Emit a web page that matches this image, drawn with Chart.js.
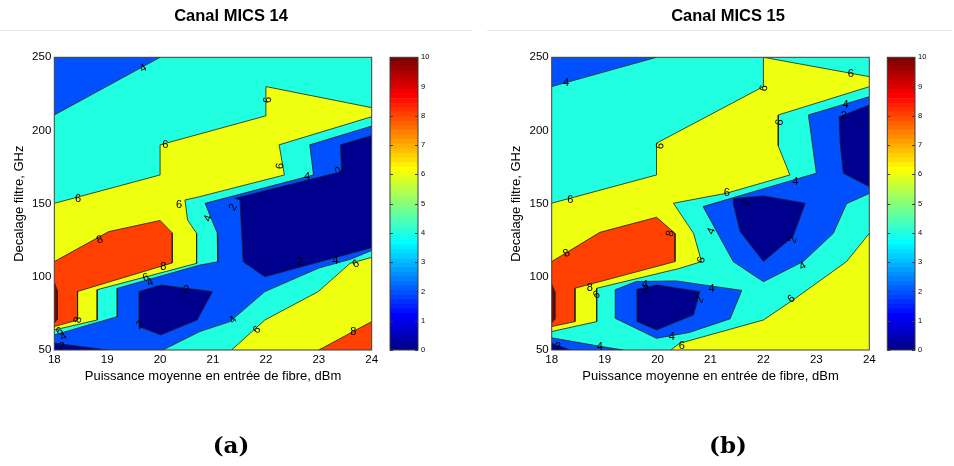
<!DOCTYPE html>
<html>
<head>
<meta charset="utf-8">
<script src="https://cdn.jsdelivr.net/npm/chart.js@4.4.0/dist/chart.umd.min.js"></script>
<style>
  body { margin: 0; background: #fff; width: 954px; height: 466px; overflow: hidden; position: relative; }
  canvas { position: absolute; top: 0; }
  .rule { position: absolute; top: 30px; height: 1px; background: #e9e9e9; }
</style>
</head>
<body>
<div class="rule" style="left:0;width:472px"></div>
<div class="rule" style="left:487px;width:465px"></div>
<canvas id="plotA" width="462" height="466" style="left:0"></canvas>
<canvas id="barA" width="60" height="466" style="left:380px"></canvas>
<canvas id="plotB" width="462" height="466" style="left:497px"></canvas>
<canvas id="barB" width="60" height="466" style="left:877px"></canvas>
<script>
// axes ranges and ticks
const xRange = [18, 24];
const yRange = [50, 250];
const xStep = 1;
const yStep = 50;
const cbRange = [0, 10];

// contour regions (x = dBm, y = GHz)
// number after each region = lower bound of its band
const frameRect = [[18, 50], [24, 50], [24, 250], [18, 250]];

// ---- Canal MICS 14
const a_blueTop = [[18, 250], [20, 250], [18, 210.6]];
const a_yellow = [[18, 150.2], [20, 169.6], [20, 190.2], [22, 210], [22, 230], [24, 215.6], [24, 209.4],
  [22.25, 190.2], [22.35, 169.6], [20.75, 154.8], [20.47, 152.5], [20.52, 138.8], [20.69, 129.7],
  [20.69, 109.2], [18.81, 91.2], [18.81, 70.5], [18, 63.7]];
const a_yellow2 = [[21.35, 50], [21.98, 70.5], [22.99, 89.9], [23.59, 109.2], [24, 113.3], [24, 50]];
const a_red = [[18, 110.4], [19.03, 130.9], [20, 138.5], [20.23, 130], [20.23, 109.5], [18.44, 90], [18.44, 70.5], [18, 66]];
const a_red2 = [[23, 50], [24, 50], [24, 69.4]];
const a_darkRed = [[18, 96], [18.06, 90.5], [18.06, 71], [18, 68.5]];
const a_blue = [[24, 203], [22.83, 190.2], [22.9, 169.6], [20.85, 150.2], [21.08, 130], [21.09, 110.3],
  [20.75, 108], [19.19, 92.1], [19.19, 72.8], [18, 60.3], [18, 50], [20.05, 50], [20.75, 62.6],
  [21.32, 69.4], [21.98, 89.9], [23, 106], [23.6, 112], [24, 118]];
const a_navy = [[24, 196.5], [23.41, 190.2], [23.43, 171.9], [21.42, 153.7], [21.51, 152.5], [21.57, 110.3], [21.98, 100], [24, 119.9]];
const a_navy2 = [[19.6, 89.9], [20.01, 94.4], [20.99, 89.9], [20.7, 70.5], [20.01, 60.3], [19.6, 66]];
const a_navy3 = [[18, 50], [18, 54.7], [19, 50]];

const a_labels = [
  ['4', 19.68, 242.5, -28], ['6', 20.1, 190, 0], ['6', 18.45, 153, 0], ['6', 20.36, 149, 0],
  ['4', 20.91, 140, -70], ['6', 22.04, 220.9, -90], ['6', 22.27, 175.8, -85], ['4', 22.78, 168.5, 0],
  ['2', 23.39, 173, -70], ['2', 21.38, 147.5, -60], ['8', 18.86, 125.2, -20], ['8', 20.06, 107, 0],
  ['6', 19.73, 99.5, -20], ['4', 19.81, 96, -20], ['2', 20.49, 91, 0], ['8', 18.45, 70.5, -80],
  ['6', 18.1, 62.6, -30], ['4', 18.17, 59.2, -30], ['2', 18.14, 52.3, 0], ['2', 19.62, 67.1, -30],
  ['2', 22.64, 109.9, 0], ['4', 23.31, 111, 0], ['6', 23.7, 108.7, -30], ['4', 21.38, 70.6, -45],
  ['6', 21.83, 63.7, -45], ['8', 23.65, 62.6, 0]
];

// ---- Canal MICS 15
const b_blueTop = [[18, 250], [19.98, 250], [18, 230]];
const b_yellow = [[18, 150.3], [19.98, 169.6], [19.98, 191.3], [22, 230], [22, 250], [24, 236.8], [24, 229.9],
  [22.28, 210.6], [22.28, 189.4], [22.5, 169.6], [21.3, 157.1], [20.3, 150.3], [20.68, 129.7],
  [20.83, 110.4], [20.42, 105.8], [18.85, 92.2], [18.85, 69.4], [18, 62.6]];
const b_yellow2 = [[20.25, 50], [20.42, 54.6], [22, 70.5], [22.56, 84.2], [23.57, 110.4], [24, 129.7], [24, 50]];
const b_red = [[18, 110.4], [18.91, 130.4], [19.98, 140.7], [20.33, 129.7], [20.33, 110.4], [18.44, 92.2], [18.44, 69.4], [18, 66]];
const b_darkRed = [[18, 95], [18.06, 90], [18.06, 71], [18, 68.5]];
const b_blue = [[22.85, 210.6], [24, 223.1], [24, 157], [23.57, 150], [23.32, 129.7], [22.75, 110.4],
  [22, 96.7], [21.43, 110.4], [20.86, 148], [23, 170.8]];
const b_blue2 = [[19.2, 91.2], [19.6, 96.8], [20.35, 97.2], [21.59, 90.7], [21.37, 71.3], [20.6, 62], [19.98, 58], [19.2, 71.7]];
const b_blue3 = [[18, 50], [18, 58.3], [18.9, 52.6], [19.35, 50]];
const b_navy = [[23.43, 209.4], [24, 217.4], [24, 161.6], [23.51, 170.8], [23.45, 191.3]];
const b_navy2 = [[21.43, 153.5], [22, 155.3], [22.79, 150.3], [22.56, 127.5], [22, 110.4], [21.56, 130.9], [21.43, 150]];
const b_navy3 = [[19.61, 91.5], [19.98, 94.4], [20.8, 89.9], [20.68, 74], [19.98, 63.7], [19.61, 69.4]];
const b_navy4 = [[18, 50], [18, 54.6], [18.35, 50]];

const b_labels = [
  ['4', 18.27, 232.2, 0], ['6', 20.05, 189.4, -80], ['6', 18.35, 152.5, 0], ['6', 22.01, 228.8, -80],
  ['6', 23.65, 238.4, 0], ['6', 22.31, 205.4, -80], ['4', 23.55, 217.4, 0], ['2', 23.52, 209.9, 0],
  ['4', 22.6, 165, 0], ['6', 21.31, 157.6, 0], ['2', 21.68, 150.5, -70], ['8', 18.28, 116, -30],
  ['8', 20.24, 129.7, -80], ['8', 18.72, 92.2, 0], ['6', 18.85, 87.6, -30], ['4', 19.76, 94.4, 0],
  ['2', 19.78, 91, 0], ['4', 20.27, 59.2, 0], ['6', 20.46, 53, 0], ['2', 18.12, 52.3, 0],
  ['4', 18.91, 52.3, 0], ['4', 21.02, 131.3, -70], ['6', 20.83, 111.5, -70], ['2', 22.56, 125.2, -70],
  ['4', 22.74, 107.4, -30], ['4', 21.02, 91.5, 0], ['2', 20.8, 84.5, -70], ['6', 22.53, 84.9, -40]
];

const layersA = [
  [frameRect, 4], [a_yellow, 6], [a_yellow2, 6], [a_red, 8], [a_red2, 8], [a_darkRed, 10],
  [a_blueTop, 2], [a_blue, 2], [a_navy, 0], [a_navy2, 0], [a_navy3, 0]
];
const layersB = [
  [frameRect, 4], [b_yellow, 6], [b_yellow2, 6], [b_red, 8], [b_darkRed, 10],
  [b_blueTop, 2], [b_blue, 2], [b_blue2, 2], [b_blue3, 2], [b_navy, 0], [b_navy2, 0], [b_navy3, 0], [b_navy4, 0]
];

Chart.defaults.font.family = '"Liberation Sans", Arial, Helvetica, sans-serif';
Chart.defaults.color = '#000';

const LINE = '#1e1e1e';
const drawOrder = {4: 100, 6: 90, 8: 80, 10: 70, 2: 60, 0: 50};

// MATLAB jet(64), k = 1..64
function jet(k) {
  const r = k <= 24 ? 0 : k <= 40 ? (k - 24) / 16 : k <= 56 ? 1 : 1 - (k - 56) / 16;
  const g = k <= 8 ? 0 : k <= 24 ? (k - 8) / 16 : k <= 40 ? 1 : k <= 56 ? 1 - (k - 40) / 16 : 0;
  const b = k <= 8 ? (k + 8) / 16 : k <= 24 ? 1 : k <= 40 ? 1 - (k - 24) / 16 : 0;
  return 'rgb(' + Math.round(r * 255) + ',' + Math.round(g * 255) + ',' + Math.round(b * 255) + ')';
}
function bandColor(level) {
  const span = cbRange[1] - cbRange[0];
  return jet(Math.min(64, Math.floor((level - cbRange[0]) / span * 64) + 1));
}
function onEdge(p, q) {
  return (p[0] === q[0] && (p[0] === xRange[0] || p[0] === xRange[1])) ||
         (p[1] === q[1] && (p[1] === yRange[0] || p[1] === yRange[1]));
}

// filled band
function region(pts, level) {
  return {
    data: pts.map(p => ({x: p[0], y: p[1]})),
    fill: 'shape',
    tension: 0,
    backgroundColor: bandColor(level),
    borderColor: 'rgba(0,0,0,0)',
    borderWidth: 0,
    pointRadius: 0,
    order: drawOrder[level]
  };
}

// contour lines: polygon outlines without the parts lying on the frame
function contourLines(layers) {
  const data = [];
  layers.forEach(([pts]) => {
    const ring = pts.concat([pts[0]]);
    for (let i = 0; i < ring.length - 1; i++) {
      const p = ring[i], q = ring[i + 1];
      if (onEdge(p, q)) continue;
      data.push({x: p[0], y: p[1]}, {x: q[0], y: q[1]}, {x: NaN, y: NaN});
    }
  });
  return {
    data, fill: false, tension: 0, spanGaps: false,
    borderColor: LINE, borderWidth: 0.8, pointRadius: 0, order: 0
  };
}

function overlay(labels) {
  return {
    id: 'overlay',
    afterDatasetsDraw(chart) {
      const {ctx, chartArea: a, scales: {x, y}} = chart;
      ctx.save();
      ctx.beginPath();
      ctx.rect(a.left, a.top, a.width, a.height);
      ctx.clip();
      ctx.fillStyle = '#000';
      ctx.font = '11px "Liberation Sans", Arial, sans-serif';
      ctx.textAlign = 'center';
      ctx.textBaseline = 'middle';
      labels.forEach(([t, vx, vy, rot]) => {
        ctx.save();
        ctx.translate(x.getPixelForValue(vx), y.getPixelForValue(vy));
        ctx.rotate(rot * Math.PI / 180);
        ctx.fillText(t, 0, 0);
        ctx.restore();
      });
      ctx.restore();
      ctx.save();
      ctx.strokeStyle = '#3c3c3c';
      ctx.lineWidth = 1;
      ctx.strokeRect(a.left, a.top, a.width, a.height);
      ctx.restore();
    }
  };
}

function makePlot(id, title, caption, layers, labels, yWidth, rightSpace) {
  const sets = layers.map(l => region(l[0], l[1]));
  sets.push(contourLines(layers.slice(1)));
  new Chart(document.getElementById(id), {
    type: 'line',
    data: { datasets: sets },
    options: {
      responsive: false,
      animation: false,
      events: [],
      layout: { padding: 0 },
      scales: {
        x: {
          type: 'linear', min: xRange[0], max: xRange[1],
          ticks: { stepSize: xStep, font: { size: 11.5 }, padding: 3, maxRotation: 0 },
          grid: { display: false, drawTicks: false }, border: { display: false },
          title: { display: true, text: 'Puissance moyenne en entrée de fibre, dBm', font: { size: 13 }, padding: 0 },
          afterFit: s => { s.height = 33.8; }
        },
        y: {
          type: 'linear', min: yRange[0], max: yRange[1],
          ticks: { stepSize: yStep, font: { size: 11.5 }, padding: 3 },
          grid: { display: false, drawTicks: false }, border: { display: false },
          title: { display: true, text: 'Decalage filtre, GHz', font: { size: 13 }, padding: { top: 11.7, bottom: 0 } },
          afterFit: s => { s.width = yWidth; }
        },
        // empty right axis: keeps room for the colour bar so the titles stay centred on the figure
        yr: {
          type: 'linear', position: 'right', min: 0, max: 1,
          ticks: { display: false }, grid: { display: false, drawTicks: false }, border: { display: false },
          afterFit: s => { s.width = rightSpace; }
        }
      },
      plugins: {
        legend: { display: false },
        tooltip: { enabled: false },
        title: {
          display: true, text: title,
          font: { size: 16.5, weight: 'bold' },
          padding: { top: 6.6, bottom: 30.9 }
        },
        subtitle: {
          display: true, text: caption, position: 'bottom',
          font: { family: '"DejaVu Serif", serif', size: 23, weight: 'bold' },
          padding: { top: 49.4, bottom: 5.2 }
        }
      }
    },
    plugins: [overlay(labels)]
  });
}

const cbTicks = [0, 1, 2, 3, 4, 5, 6, 7, 8, 9, 10];
const cbFrame = {
  id: 'cbFrame',
  afterDatasetsDraw(chart) {
    const {ctx, chartArea: a, scales: {y}} = chart;
    ctx.save();
    ctx.strokeStyle = '#3c3c3c';
    ctx.lineWidth = 1;
    ctx.beginPath();
    cbTicks.forEach(v => {
      const py = Math.round(y.getPixelForValue(v)) + 0.5;
      ctx.moveTo(a.left, py); ctx.lineTo(a.left + 3, py);
      ctx.moveTo(a.right - 3, py); ctx.lineTo(a.right, py);
    });
    ctx.stroke();
    ctx.strokeRect(a.left, a.top, a.width, a.height);
    ctx.restore();
  }
};

function makeColorbar(id, padLeft) {
  const steps = Array.from({length: 64}, (_, i) => i + 1);
  new Chart(document.getElementById(id), {
    type: 'bar',
    data: {
      labels: [''],
      datasets: steps.map(k => ({
        data: [(cbRange[1] - cbRange[0]) / 64],
        backgroundColor: jet(k), borderWidth: 0,
        barPercentage: 1, categoryPercentage: 1
      }))
    },
    options: {
      responsive: false,
      animation: false,
      events: [],
      layout: { padding: { left: padLeft, right: 2, top: 57.3, bottom: 116 } },
      scales: {
        x: { display: false, stacked: true },
        y: {
          stacked: true, position: 'right', min: cbRange[0], max: cbRange[1],
          ticks: { stepSize: 1, font: { size: 7.5 }, padding: 3 },
          grid: { display: false, drawTicks: false }, border: { display: false },
          afterFit: s => { s.width = 20; }
        }
      },
      plugins: { legend: { display: false }, tooltip: { enabled: false } }
    },
    plugins: [cbFrame]
  });
}

makePlot('plotA', 'Canal MICS 14', '(a)', layersA, a_labels, 54.3, 90.3);
makePlot('plotB', 'Canal MICS 15', '(b)', layersB, b_labels, 54.7, 89.7);
makeColorbar('barA', 10);
makeColorbar('barB', 10.3);
</script>
</body>
</html>
